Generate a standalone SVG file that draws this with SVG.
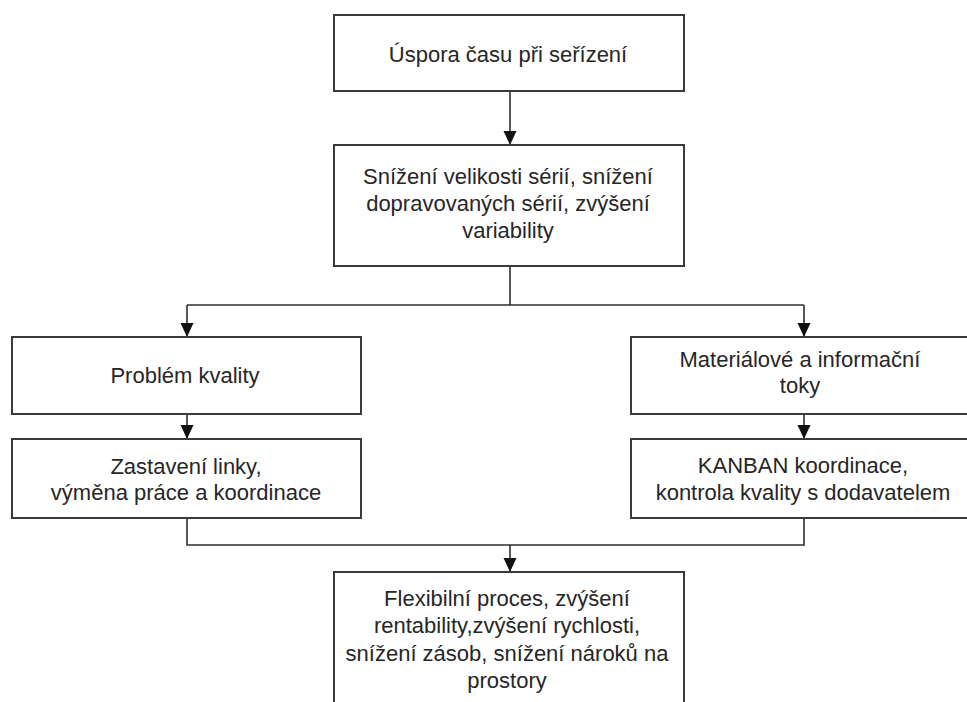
<svg xmlns="http://www.w3.org/2000/svg" width="967" height="702" viewBox="0 0 967 702">
<defs>
<style>
.box{fill:#fff;stroke:#3a3a3a;stroke-width:2}
.t{font-family:"Liberation Sans",Arial,sans-serif;font-size:22px;fill:#262626;text-anchor:middle}
.c{fill:none;stroke:#2e2e2e;stroke-width:1.6}
</style>
<marker id="ah" markerUnits="userSpaceOnUse" markerWidth="16" markerHeight="14" viewBox="0 0 16 14" refX="15" refY="7" orient="auto">
<path d="M1,0.5 L1,13.5 L15,7 Z" fill="#111"/>
</marker>
</defs>
<rect width="967" height="702" fill="#fff"/>
<g id="connectors">
<path class="c" d="M510,91 V145" marker-end="url(#ah)"/>
<path class="c" d="M510,266 V305"/>
<path class="c" d="M187,305 H804"/>
<path class="c" d="M187,305 V337" marker-end="url(#ah)"/>
<path class="c" d="M804,305 V337" marker-end="url(#ah)"/>
<path class="c" d="M187,414 V439" marker-end="url(#ah)"/>
<path class="c" d="M804,414 V439" marker-end="url(#ah)"/>
<path class="c" d="M187,518 V545 H804 V518"/>
<path class="c" d="M510,545 V572" marker-end="url(#ah)"/>
</g>
<g id="n1">
<rect class="box" x="334" y="15" width="350" height="76"/>
<text class="t" x="508" y="62">Úspora času při seřízení</text>
</g>
<g id="n2">
<rect class="box" x="334" y="145" width="350" height="121"/>
<text class="t" x="508" y="184">Snížení velikosti sérií, snížení</text>
<text class="t" x="508" y="211">dopravovaných sérií, zvýšení</text>
<text class="t" x="508" y="238">variability</text>
</g>
<g id="n3">
<rect class="box" x="12" y="337" width="349" height="77"/>
<text class="t" x="185" y="383">Problém kvality</text>
</g>
<g id="n4">
<rect class="box" x="631" y="337" width="346" height="77"/>
<text class="t" x="800" y="367">Materiálové a informační</text>
<text class="t" x="800" y="393">toky</text>
</g>
<g id="n5">
<rect class="box" x="12" y="439" width="349" height="79"/>
<text class="t" x="186" y="474">Zastavení linky,</text>
<text class="t" x="186" y="500">výměna práce a koordinace</text>
</g>
<g id="n6">
<rect class="box" x="631" y="439" width="346" height="79"/>
<text class="t" x="803" y="473">KANBAN koordinace,</text>
<text class="t" x="803" y="500">kontrola kvality s dodavatelem</text>
</g>
<g id="n7">
<rect class="box" x="334" y="572" width="350" height="140"/>
<text class="t" x="507" y="606">Flexibilní proces, zvýšení</text>
<text class="t" x="507" y="633">rentability,zvýšení rychlosti,</text>
<text class="t" x="507" y="661">snížení zásob, snížení nároků na</text>
<text class="t" x="507" y="688">prostory</text>
</g>
</svg>
